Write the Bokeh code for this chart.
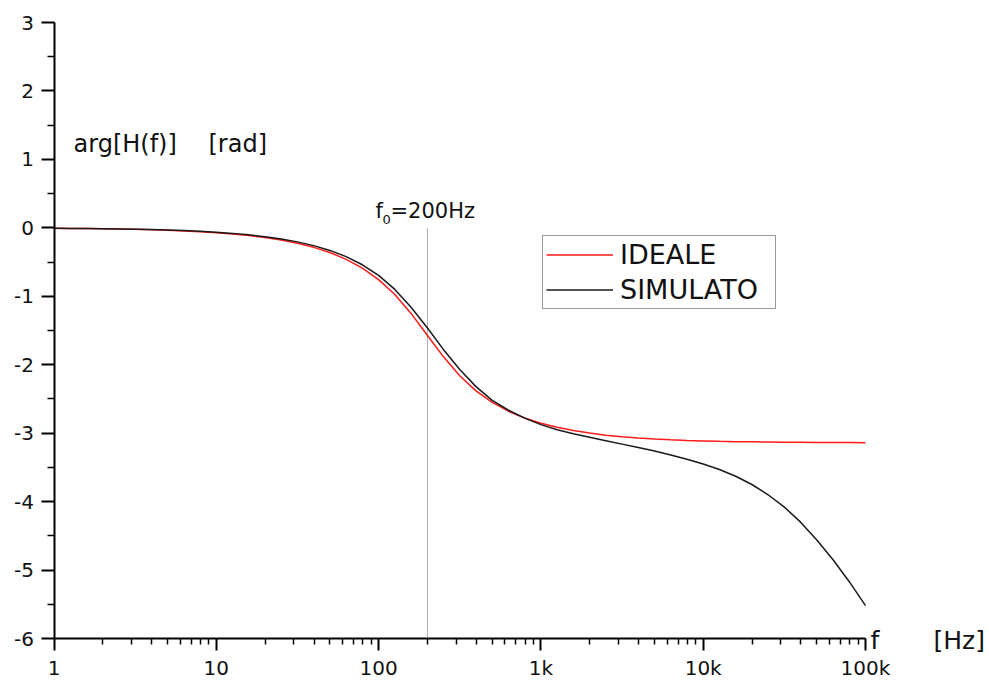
from bokeh.plotting import figure
from bokeh.models import (Range1d, FixedTicker, Label, Legend, LegendItem,
                          ColumnDataSource)
from bokeh.embed import file_html
from bokeh.resources import INLINE

# Frequency samples (Hz), ten per decade
freq = [1, 1.259, 1.585, 1.995, 2.512, 3.162, 3.981, 5.012, 6.310, 7.943,
        10, 12.59, 15.85, 19.95, 25.12, 31.62, 39.81, 50.12, 63.10, 79.43,
        100, 125.9, 158.5, 199.5, 251.2, 316.2, 398.1, 501.2, 631.0, 794.3,
        1000, 1259, 1585, 1995, 2512, 3162, 3981, 5012, 6310, 7943,
        10000, 12590, 15850, 19950, 25120, 31620, 39810, 50120, 63100, 79430,
        100000]

# Phase of H(f) in rad: ideal second-order low-pass
phase_ideal = [-0.007, -0.009, -0.011, -0.014, -0.018, -0.022, -0.028, -0.035,
               -0.045, -0.056,
               -0.071, -0.089, -0.112, -0.142, -0.179, -0.225, -0.285, -0.361,
               -0.460, -0.588,
               -0.756, -0.975, -1.250, -1.569, -1.885, -2.161, -2.382, -2.550,
               -2.679, -2.778,
               -2.855, -2.915, -2.962, -2.999, -3.029, -3.052, -3.071, -3.085,
               -3.097, -3.106,
               -3.113, -3.119, -3.124, -3.127, -3.130, -3.133, -3.134, -3.136,
               -3.137, -3.138,
               -3.139]

# Phase of H(f) in rad: simulated circuit
phase_sim = [-0.006, -0.008, -0.010, -0.013, -0.016, -0.020, -0.025, -0.032,
             -0.040, -0.051,
             -0.065, -0.081, -0.102, -0.129, -0.163, -0.205, -0.260, -0.330,
             -0.420, -0.540,
             -0.695, -0.900, -1.160, -1.460, -1.780, -2.070, -2.320, -2.520,
             -2.665, -2.780,
             -2.875, -2.950, -3.010, -3.060, -3.110, -3.160, -3.210, -3.260,
             -3.320, -3.380,
             -3.450, -3.530, -3.630, -3.750, -3.900, -4.080, -4.300, -4.560,
             -4.850, -5.170,
             -5.520]

f0 = 200
f_min, f_max = 1, 100000
y_min, y_max = -6, 3

x_tick_vals = [1, 10, 100, 1000, 10000, 100000]
x_tick_labels = ["1", "10", "100", "1k", "10k", "100k"]
x_minor_vals = [m * d for d in [1, 10, 100, 1000, 10000] for m in range(2, 10)]
y_tick_vals = [-6, -5, -4, -3, -2, -1, 0, 1, 2, 3]
y_tick_labels = ["-6", "-5", "-4", "-3", "-2", "-1", "0", "1", "2", "3"]
y_minor_vals = [v + 0.5 for v in y_tick_vals[:-1]]

FONT = "DejaVu Sans"
TXT = "#111111"

# The plotting frame covers the whole canvas; both axes are pinned at the
# data origin of the chart (f = 1, phase = -6) and limited to their bounds,
# which leaves room around them for the axis titles.
W, H = 989, 682
LEFT, RIGHT, TOP, BOTTOM = 53.5, 865, 22, 638   # canvas px of the axes box
dec_px = (RIGHT - LEFT) / 5                      # pixels per decade
unit_px = (BOTTOM - TOP) / (y_max - y_min)       # pixels per rad
x_lo = f_min * 10 ** (-LEFT / dec_px)
x_hi = f_max * 10 ** ((W - RIGHT) / dec_px)
y_lo = y_min - (H - BOTTOM) / unit_px
y_hi = y_max + TOP / unit_px

p = figure(width=W, height=H, x_axis_type="log",
           x_range=Range1d(x_lo, x_hi), y_range=Range1d(y_lo, y_hi),
           output_backend="svg", toolbar_location=None,
           min_border=0)
p.outline_line_color = None
p.xgrid.visible = False
p.ygrid.visible = False
p.background_fill_color = "white"
p.border_fill_color = "white"

for ax in (p.xaxis[0], p.yaxis[0]):
    ax.axis_line_width = 2
    ax.axis_line_color = "black"
    ax.major_tick_line_width = 2
    ax.minor_tick_line_width = 1.5
    ax.major_tick_in = 0
    ax.minor_tick_in = 0
    ax.major_label_text_font = FONT
    ax.major_label_text_font_size = "20px"
    ax.major_label_text_color = TXT

p.xaxis.fixed_location = y_min
p.xaxis.bounds = (f_min, f_max)
p.xaxis.ticker = FixedTicker(ticks=x_tick_vals, minor_ticks=x_minor_vals)
p.xaxis.major_label_overrides = dict(zip(x_tick_vals, x_tick_labels))
p.xaxis.major_tick_out = 12
p.xaxis.minor_tick_out = 6
p.xaxis.major_label_standoff = 5

p.yaxis.fixed_location = f_min
p.yaxis.bounds = (y_min, y_max)
p.yaxis.ticker = FixedTicker(ticks=y_tick_vals, minor_ticks=y_minor_vals)
p.yaxis.major_label_overrides = dict(zip(y_tick_vals, y_tick_labels))
p.yaxis.major_tick_out = 13
p.yaxis.minor_tick_out = 7
p.yaxis.major_label_standoff = 7

# resonance marker
p.segment(x0=[f0], y0=[0], x1=[f0], y1=[y_min], line_color="#b0b0b0",
          line_width=1)

src = ColumnDataSource(dict(f=freq, ideal=phase_ideal, sim=phase_sim))
r_ideal = p.line("f", "ideal", source=src, line_color="#ff1a1a",
                 line_width=1.5)
r_sim = p.line("f", "sim", source=src, line_color="#1a1a1a",
               line_width=1.5)

legend = Legend(items=[LegendItem(label="IDEALE", renderers=[r_ideal]),
                       LegendItem(label="SIMULATO", renderers=[r_sim])],
                location=(542, H - 309), orientation="vertical",
                label_text_font=FONT, label_text_font_size="27px",
                label_text_color=TXT,
                glyph_width=67, glyph_height=31, label_height=31,
                label_width=152, label_standoff=7, spacing=4, padding=3,
                margin=0, border_line_color="#333333", border_line_width=1,
                background_fill_color="white", background_fill_alpha=1.0)
p.add_layout(legend)


def canvas_text(x, y, text, size, baseline="alphabetic"):
    # x, y in canvas pixels measured from the top-left corner
    p.add_layout(Label(x=x, y=H - y, x_units="screen", y_units="screen",
                       text=text, text_font=FONT, text_font_size=size,
                       text_color=TXT, text_baseline=baseline))


# axis titles
canvas_text(73, 143, "arg[H(f)]", "24px")
canvas_text(208, 143, "[rad]", "24px")
canvas_text(870, 640, "f", "25px", "middle")
canvas_text(933, 640, "[Hz]", "25px", "middle")

# f0 annotation
canvas_text(375, 210, "f", "21px")
canvas_text(382, 219, "0", "13px")
canvas_text(390, 210, "=200Hz", "21px")

open("out.html", "w").write(file_html(p, INLINE))
